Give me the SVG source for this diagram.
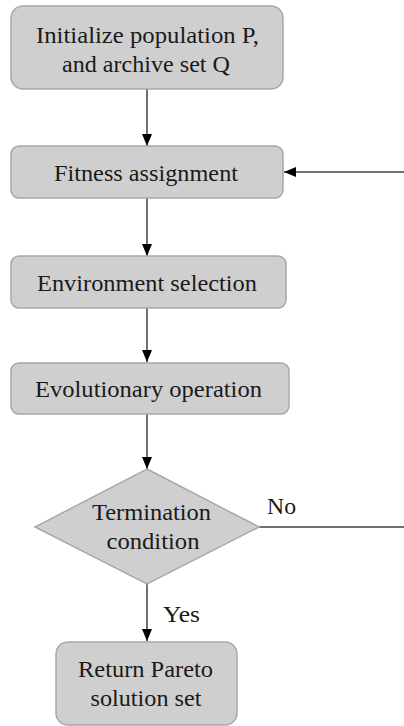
<svg xmlns="http://www.w3.org/2000/svg" width="404" height="726" viewBox="0 0 404 726" font-family="Liberation Serif, serif">
<defs>
<style>
.box{fill:#d0cfd0;stroke:#a8a8a8;stroke-width:1.5}
.t{font-family:Liberation Serif,serif;font-size:23px;fill:#1a1a1a;text-anchor:middle}
.lbl{font-family:Liberation Serif,serif;font-size:23px;fill:#1a1a1a}
.c{stroke:#404040;stroke-width:1.5;fill:none}
</style>
<marker id="ah" viewBox="0 0 12 10" refX="12" refY="5" markerWidth="12" markerHeight="10" markerUnits="userSpaceOnUse" orient="auto">
<path d="M0,0 L12,5 L0,10 Z" fill="#000"/>
</marker>
</defs>
<rect width="404" height="726" fill="#fff"/>
<g id="connectors">
<line class="c" x1="147" y1="89" x2="147" y2="146" marker-end="url(#ah)"/>
<line class="c" x1="404" y1="172" x2="284" y2="172" marker-end="url(#ah)"/>
<line class="c" x1="147" y1="198" x2="147" y2="256" marker-end="url(#ah)"/>
<line class="c" x1="147" y1="308" x2="147" y2="362" marker-end="url(#ah)"/>
<line class="c" x1="147" y1="414" x2="147" y2="469" marker-end="url(#ah)"/>
<line class="c" x1="259" y1="527" x2="404" y2="527"/>
<line class="c" x1="147" y1="584" x2="147" y2="641" marker-end="url(#ah)"/>
<text class="lbl" x="267" y="514" textLength="29" lengthAdjust="spacingAndGlyphs">No</text>
<text class="lbl" x="163" y="622" textLength="37" lengthAdjust="spacingAndGlyphs">Yes</text>
</g>
<g id="init">
<rect class="box" x="11" y="6" width="272" height="83" rx="12"/>
<text class="t" x="147.5" y="43" textLength="223" lengthAdjust="spacingAndGlyphs">Initialize population P,</text>
<text class="t" x="146" y="72" textLength="168" lengthAdjust="spacingAndGlyphs">and archive set Q</text>
</g>
<g id="fitness">
<rect class="box" x="11" y="146" width="272" height="52" rx="8"/>
<text class="t" x="146" y="181" textLength="184" lengthAdjust="spacingAndGlyphs">Fitness assignment</text>
</g>
<g id="environment">
<rect class="box" x="11" y="256" width="275" height="52" rx="8"/>
<text class="t" x="147" y="291" textLength="220" lengthAdjust="spacingAndGlyphs">Environment selection</text>
</g>
<g id="evolutionary">
<rect class="box" x="11" y="363" width="278" height="51" rx="8"/>
<text class="t" x="148.5" y="397" textLength="227" lengthAdjust="spacingAndGlyphs">Evolutionary operation</text>
</g>
<g id="termination">
<polygon class="box" points="147,469 259,527 147,584 35,527"/>
<text class="t" x="151.5" y="520" textLength="119" lengthAdjust="spacingAndGlyphs">Termination</text>
<text class="t" x="153" y="549" textLength="93" lengthAdjust="spacingAndGlyphs">condition</text>
</g>
<g id="return">
<rect class="box" x="56" y="642" width="181" height="83" rx="12"/>
<text class="t" x="145.5" y="677" textLength="135" lengthAdjust="spacingAndGlyphs">Return Pareto</text>
<text class="t" x="146" y="706" textLength="111" lengthAdjust="spacingAndGlyphs">solution set</text>
</g>
</svg>
